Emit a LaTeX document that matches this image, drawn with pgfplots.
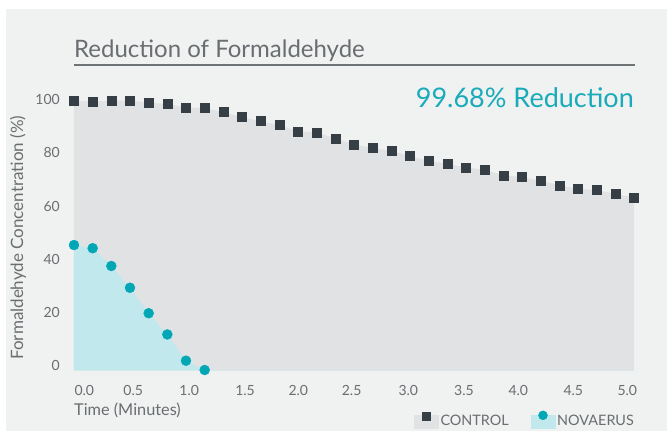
\documentclass[border=0pt]{standalone}
\usepackage{pgfplots}
\pgfplotsset{compat=1.18}
\usepackage{fontspec}
\setmainfont{Lato}
\definecolor{panel}{HTML}{F0F1F1}
\definecolor{ctrlarea}{HTML}{E1E2E4}
\definecolor{ctrlmark}{HTML}{363F46}
\definecolor{teal1}{HTML}{02A7B6}
\definecolor{novarea}{HTML}{C1E8EC}
\definecolor{txtgray}{HTML}{6A6E71}
\definecolor{titleline}{HTML}{6E7376}
\definecolor{redteal}{HTML}{19ABBA}
\definecolor{baseline}{HTML}{D8E8EA}

\pgfplotstableread{
t v
0.0000 99.7
0.1667 99.4
0.3333 99.7
0.5000 99.7
0.6667 99.1
0.8333 98.4
1.0000 97.2
1.1667 96.9
1.3333 95.4
1.5000 93.5
1.6667 92.0
1.8333 90.5
2.0000 88.2
2.1667 87.8
2.3333 85.5
2.5000 83.3
2.6667 81.8
2.8333 80.8
3.0000 78.9
3.1667 77.0
3.3333 75.8
3.5000 74.6
3.6667 73.6
3.8333 71.6
4.0000 70.9
4.1667 69.5
4.3333 67.8
4.5000 66.5
4.6667 66.1
4.8333 64.5
5.0000 63.3
}\control

\pgfplotstableread{
t v
0.0000 45.3
0.1667 44.1
0.3333 37.4
0.5000 29.2
0.6667 19.6
0.8333 11.6
1.0000 1.7
1.1667 -1.8
}\novaerus

\begin{document}
\begin{tikzpicture}
\path[fill=white] (-74pt,-61pt) rectangle (593pt,370pt);
\path[fill=panel] (-68pt,-61pt) rectangle (593pt,361pt);
\begin{axis}[
  at={(0pt,0pt)}, anchor=south west,
  scale only axis, width=560pt, height=270.1pt,
  xmin=0, xmax=5, ymin=-1.8, ymax=100,
  clip=false,
  axis lines*=left,
  axis line style={-},
  x axis line style={draw=baseline, line width=0.8pt},
  y axis line style={draw=none},
  major tick length=0pt,
  xtick={0.092,0.529,1.029,1.527,2.003,2.479,2.985,3.482,3.967,4.458,4.940},
  xticklabels={0.0,0.5,1.0,1.5,2.0,2.5,3.0,3.5,4.0,4.5,5.0},
  ytick={0,20,40,60,80,100},
  /pgf/number format/assume math mode=true,
  tick label style={text=txtgray, font=\fontsize{14}{14}\selectfont, inner sep=0pt},
  xticklabel style={anchor=base, yshift=-25.5pt},
  yticklabel style={anchor=base east, xshift=-14pt, yshift=-5pt},
  xlabel={Time (Minutes)},
  xlabel style={at={(axis description cs:0,0)}, anchor=west, yshift=-40pt, inner sep=0pt, text=txtgray, font=\fontsize{16.3}{16.3}\selectfont},
  ylabel={Formaldehyde Concentration (\%)},
  ylabel style={at={(axis description cs:-0.1,0.49)}, anchor=center, inner sep=0pt, text=txtgray, font=\fontsize{17}{17}\selectfont},
  legend columns=2,
  legend style={at={(axis description cs:0.607,-0.185)}, anchor=west, draw=none, fill=none, inner sep=0pt,
    font=\fontsize{14.4}{14.4}\selectfont, text=txtgray,
    /tikz/every even column/.append style={column sep=20pt}},
  legend cell align=left,
]
% areas
\addplot[fill=ctrlarea, draw=none, forget plot] table[x=t,y=v] {\control} -- (axis cs:5,-1.8) -- (axis cs:0,-1.8) -- cycle;
\addplot[fill=novarea, draw=none, forget plot] table[x=t,y=v] {\novaerus} -- (axis cs:0,-1.8) -- cycle;
% marks
\addplot[only marks, mark=square*, mark size=4.5pt, color=ctrlmark,
  legend image code/.code={
    \fill[ctrlarea] (0pt,-6.5pt) rectangle (24pt,6.5pt);
    \fill[ctrlmark] (8pt,1.5pt) rectangle (16pt,9.5pt);
  }] table[x=t,y=v] {\control};
\addlegendentry{CONTROL}
\addplot[only marks, mark=*, mark size=5pt, color=teal1,
  legend image code/.code={
    \fill[novarea] (0pt,-6.5pt) rectangle (24pt,6.5pt);
    \fill[teal1] (12pt,6pt) circle (4.5pt);
  }] table[x=t,y=v] {\novaerus};
\addlegendentry{NOVAERUS}
\end{axis}
\node[anchor=base west, inner sep=0pt, text=txtgray, font=\fontsize{24}{24}\selectfont] at (0pt,312.7pt) {Reduction of Formaldehyde};
\draw[titleline, line width=1.2pt] (0pt,305pt) -- (561pt,305pt);
\node[anchor=base east, inner sep=0pt, text=redteal, font=\fontsize{27}{27}\selectfont] at (560pt,262.3pt) {99.68\% Reduction};
\end{tikzpicture}
\end{document}
